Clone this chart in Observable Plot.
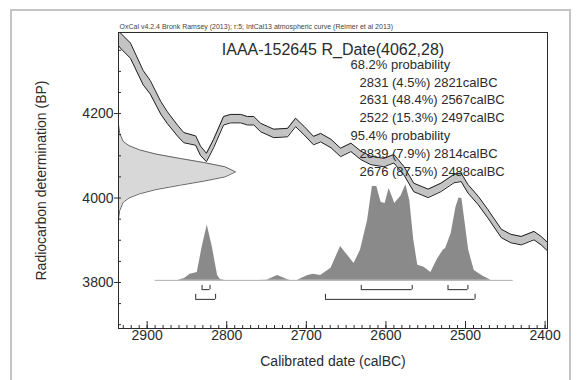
<!DOCTYPE html>
<html><head><meta charset="utf-8">
<script src="https://cdn.jsdelivr.net/npm/d3@7"></script>
<script src="https://cdn.jsdelivr.net/npm/@observablehq/plot@0.6"></script>
<style>
body{margin:0;background:#fff;}
#wrap{position:relative;width:579px;height:380px;overflow:hidden;font-family:"Liberation Sans",Arial,sans-serif;}
#border{position:absolute;left:10px;top:9px;width:557px;height:420px;border:2px solid #c4c4c4;}
#wrap svg{position:absolute;left:0;top:0;}
</style></head><body><div id="wrap"><div id="border"></div></div>
<script>
// Calibration curve (IntCal13): calendar year BC, radiocarbon BP, 1-sigma error
const calYear = [2937,2933.6,2921,2905,2896,2883,2874.5,2862,2854,2839,2833,2825.5,2816.5,2804,2795,2782.5,2774,2766,2757.5,2741,2723.5,2713.5,2703,2691,2682,2669,2657,2644,2631.5,2619,2602.5,2590,2577.5,2565,2547,2531,2514.5,2505.5,2497,2484,2472,2455,2443,2430,2414,2405,2396];
const calBP   = [4382,4373,4349,4285,4262,4214,4190,4160,4143,4136,4112,4096,4129,4183,4188,4188,4183,4183,4167,4153,4155,4179,4160,4136,4143,4129,4108,4120,4101,4089,4084,4093,4065,4025,4011,4025,4046,4049,4022,3994,3963,3916,3904,3899,3911,3899,3883];
const calErr  = [18,18,18,17,16,15,14,13,12,11,11,10,10,10,10,10,10,10,10,10,10,10,10,10,10,10,10,10,10,10,10,10,10,10,10,10,10,10,10,10,10,10,10,10,10,10,10];

// Radiocarbon measurement likelihood R_Date(4062,28): BP and relative density
const likeBP   = [3950,3970,3990,4000,4010,4020,4030,4040,4050,4062,4074,4084,4094,4104,4114,4124,4134,4154,4174];
const likeDens = [0,0.01,0.04,0.09,0.18,0.32,0.52,0.73,0.91,1.0,0.91,0.73,0.52,0.32,0.18,0.09,0.04,0.01,0];

// Calibrated probability distribution: year BC, relative probability
const postYear = [2890,2861,2853,2846,2837,2831,2824.5,2818,2811.5,2808,2802,2760,2749,2736,2724,2720,2711,2698,2691,2682,2669,2657,2648,2640,2632,2623,2617,2611.5,2606,2601,2596,2591,2589,2581,2575,2570,2565,2560,2552,2543.5,2535,2528,2525,2518,2512,2508,2504.5,2502,2496,2489,2478,2468,2440];
const postProb = [0,0,0.02,0.064,0.085,0.35,0.59,0.35,0.053,0.01,0,0,0.005,0.053,0.01,0,0,0.053,0.064,0.053,0.13,0.36,0.266,0.18,0.32,0.64,1.0,1.0,0.83,0.82,0.98,0.87,0.82,0.9,1.02,0.85,0.43,0.16,0.14,0.085,0.23,0.32,0.34,0.5,0.78,0.88,0.87,0.71,0.32,0.106,0.043,0,0];

// Ranges
const range68Start = [2831,2631,2522];
const range68End   = [2821,2567,2497];
const range68Pct   = ["4.5%","48.4%","15.3%"];
const range95Start = [2839,2676];
const range95End   = [2814,2488];
const range95Pct   = ["7.9%","87.5%"];

// Ticks and texts
const xTicks = [2900,2800,2700,2600,2500,2400];
const yTicks = [3800,4000,4200];
const headerText = "OxCal v4.2.4 Bronk Ramsey (2013); r:5; IntCal13 atmospheric curve (Reimer et al 2013)";
const titleText = "IAAA-152645 R_Date(4062,28)";
const xLabel = "Calibrated date (calBC)";
const yLabel = "Radiocarbon determination (BP)";

// Layout
const W = 579, H = 380, mL = 118, mR = 32, mT = 32, mB = 52;
const frameW = W - mL - mR, frameH = H - mT - mB;
const xDom = [2936, 2397], yDom = [3691, 4392];
const likeSpan = 147;          // width of likelihood peak in years
const postBase = 3805, postScale = 222;

const cal = calYear.map((x,i)=>({x, lo: calBP[i]-calErr[i], hi: calBP[i]+calErr[i]}));
const like = likeBP.map((y,i)=>({y, x2: xDom[0] - likeDens[i]*likeSpan}));
const post = postYear.map((x,i)=>({x, y: postBase + postProb[i]*postScale}));

const lines = [];
lines.push({t:"68.2% probability", ind:0});
range68Start.forEach((s,i)=>lines.push({t:`${s} (${range68Pct[i]}) ${range68End[i]}calBC`, ind:1}));
lines.push({t:"95.4% probability", ind:0});
range95Start.forEach((s,i)=>lines.push({t:`${s} (${range95Pct[i]}) ${range95End[i]}calBC`, ind:1}));

const brackets = [];
range68Start.forEach((s,i)=>brackets.push({a:s, b:range68End[i], y:3783, y2:3793}));
range95Start.forEach((s,i)=>brackets.push({a:s, b:range95End[i], y:3760, y2:3772}));
const bEnds = brackets.flatMap(d=>[{x:d.a,y1:d.y,y2:d.y2},{x:d.b,y1:d.y,y2:d.y2}]);

const xMinor = d3.range(2400, 2940, 10);
const yMinor = d3.range(3700, 4400, 50);
const ink = "#2b2b2b";

const textMarks = lines.map((l,i)=>Plot.text([l.t], {
  frameAnchor:"top-left", textAnchor:"start", dx: l.ind ? 241 : 232, dy: 27 + i*17.8,
  fontSize: 13, fill: ink
}));

const chart = Plot.plot({
  width: W, height: H, marginLeft: mL, marginRight: mR, marginTop: mT, marginBottom: mB,
  style: {fontFamily: '"Liberation Sans", Arial, sans-serif', background: "transparent", overflow: "visible"},
  x: {domain: xDom, axis: null},
  y: {domain: yDom, axis: null},
  marks: [
    Plot.areaY(cal, {x:"x", y1:"lo", y2:"hi", fill:"#c3c3c3", clip:true}),
    Plot.line(cal, {x:"x", y:"hi", stroke:"#1e1e1e", strokeWidth:1, clip:true}),
    Plot.line(cal, {x:"x", y:"lo", stroke:"#1e1e1e", strokeWidth:1, clip:true}),
    Plot.areaX(like, {y:"y", x1: xDom[0], x2:"x2", fill:"#d8d8d8"}),
    Plot.line(like, {x:"x2", y:"y", stroke:"#555", strokeWidth:0.9}),
    Plot.ruleY([postBase], {x1: postYear[0], x2: postYear[postYear.length-1], stroke:"#b0b0b0", strokeWidth:1}),
    Plot.areaY(post, {x:"x", y1: postBase, y2:"y", fill:"#8a8a8a"}),
    Plot.ruleY(brackets, {y:"y", x1:"a", x2:"b", stroke:ink, strokeWidth:1}),
    Plot.ruleX(bEnds, {x:"x", y1:"y1", y2:"y2", stroke:ink, strokeWidth:1}),
    ...textMarks,
    Plot.text([titleText], {frameAnchor:"top", dy: 11, fontSize: 16, fill: ink}),
    Plot.text([headerText], {frameAnchor:"top-left", textAnchor:"start", dx: 1, dy: -8, fontSize: 7, fill: "#444"}),
    Plot.frame({stroke: ink, strokeWidth: 1}),
    Plot.tickX(xMinor, {x: d=>d, insetTop: frameH - 3, stroke: ink}),
    Plot.tickX(xTicks, {x: d=>d, insetTop: frameH - 7, stroke: ink}),
    Plot.tickY(yMinor, {y: d=>d, insetRight: frameW - 3, stroke: ink}),
    Plot.axisX(xTicks, {tickSize: 0, tickPadding: 2, fontSize: 14, label: null, fill: ink, tickFormat: d => String(d)}),
    Plot.axisY(yTicks, {tickSize: 4, tickPadding: 1, fontSize: 14, fill: ink, stroke: ink, tickFormat: d => String(d),
      label: yLabel, labelAnchor: "center", labelArrow: "none", labelOffset: 82}),
    Plot.text([xLabel], {frameAnchor:"bottom", dy: 37, fontSize: 14, fill: ink})
  ]
});
document.getElementById("wrap").appendChild(chart);
</script>
</body></html>
